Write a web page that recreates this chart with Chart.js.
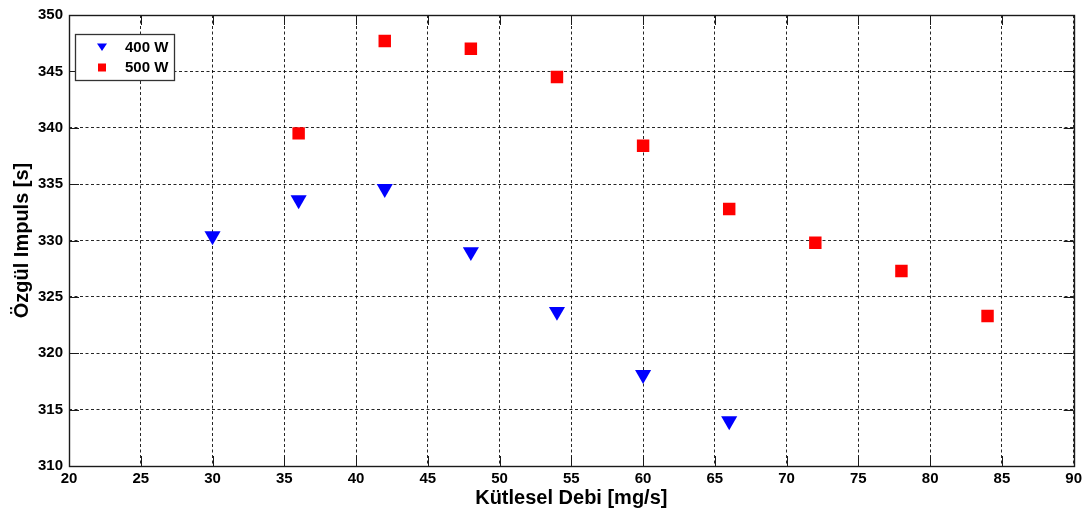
<!DOCTYPE html>
<html>
<head>
<meta charset="utf-8">
<script src="https://cdn.jsdelivr.net/npm/chart.js@4/dist/chart.umd.min.js"></script>
<style>
  html, body { margin: 0; padding: 0; background: #ffffff; }
  #wrap { width: 1086px; height: 515px; position: relative; }
</style>
</head>
<body>
<div id="wrap"><canvas id="c" width="1086" height="515"></canvas></div>
<script>
// Mass flow rate (mg/s) and specific impulse (s) for the two power levels
const massFlow400 = [30, 36, 42, 48, 54, 60, 66];
const isp400 = [330.4, 333.6, 334.6, 329.0, 323.7, 318.1, 314.0];

const massFlow500 = [36, 42, 48, 54, 60, 66, 72, 78, 84];
const isp500 = [339.5, 347.7, 347.0, 344.5, 338.4, 332.8, 329.8, 327.3, 323.3];

const seriesLabels = ['400 W', '500 W'];

// Axis ranges and tick spacing
const xRange = [20, 90];
const yRange = [310, 350];
const tickStep = 5;

const xTitle = 'Kütlesel Debi [mg/s]';
const yTitle = 'Özgül Impuls [s]';

const FONT = "'Liberation Sans', Arial, sans-serif";

function toPoints(xs, ys) {
  return xs.map((x, i) => ({ x: x, y: ys[i] }));
}

// Box frame with inward tick marks on all four sides
const framePlugin = {
  id: 'frame',
  afterDatasetsDraw(chart) {
    const { ctx, chartArea: a, scales } = chart;
    const tickLen = 10;
    ctx.save();
    ctx.strokeStyle = '#1a1a1a';
    ctx.lineWidth = 1;
    ctx.setLineDash([]);
    ctx.beginPath();
    scales.x.ticks.forEach(t => {
      const px = Math.round(scales.x.getPixelForValue(t.value)) + 0.5;
      ctx.moveTo(px, a.bottom); ctx.lineTo(px, a.bottom - tickLen);
      ctx.moveTo(px, a.top); ctx.lineTo(px, a.top + tickLen);
    });
    scales.y.ticks.forEach(t => {
      const py = Math.round(scales.y.getPixelForValue(t.value)) + 0.5;
      ctx.moveTo(a.left, py); ctx.lineTo(a.left + tickLen, py);
      ctx.moveTo(a.right, py); ctx.lineTo(a.right - tickLen, py);
    });
    ctx.stroke();
    ctx.lineWidth = 1.4;
    ctx.strokeRect(Math.round(a.left) + 0.5, Math.round(a.top) + 0.5,
                   Math.round(a.right - a.left), Math.round(a.bottom - a.top));
    ctx.restore();
  }
};

// Legend box drawn inside the upper-left corner of the plot
const insideLegend = {
  id: 'insideLegend',
  afterDraw(chart) {
    const { ctx, chartArea: a } = chart;
    const bx = a.left + 6, by = a.top + 19, bw = 99, bh = 46;
    ctx.save();
    ctx.fillStyle = '#ffffff';
    ctx.fillRect(bx, by, bw, bh);
    ctx.strokeStyle = '#333333';
    ctx.lineWidth = 1.3;
    ctx.strokeRect(bx + 0.5, by + 0.5, bw, bh);
    chart.data.datasets.forEach((ds, i) => {
      const cy = by + 13 + i * 20.5;
      const mx = bx + 27;
      ctx.fillStyle = ds.backgroundColor;
      ctx.beginPath();
      if (ds.pointStyle === 'triangle') {
        ctx.moveTo(mx - 5, cy - 3.5);
        ctx.lineTo(mx + 5, cy - 3.5);
        ctx.lineTo(mx, cy + 4);
        ctx.closePath();
      } else {
        ctx.rect(mx - 4, cy - 4, 8, 8);
      }
      ctx.fill();
      ctx.fillStyle = '#000000';
      ctx.font = 'bold 15px ' + FONT;
      ctx.textAlign = 'left';
      ctx.textBaseline = 'middle';
      ctx.fillText(ds.label, bx + 50, cy + 0.5);
    });
    ctx.restore();
  }
};

new Chart(document.getElementById('c'), {
  type: 'scatter',
  data: {
    datasets: [
      {
        label: seriesLabels[0],
        data: toPoints(massFlow400, isp400),
        pointStyle: 'triangle',
        rotation: 180,
        pointRadius: 9.3,
        pointHoverRadius: 9.3,
        backgroundColor: '#0000ff',
        borderColor: '#0000ff',
        borderWidth: 0
      },
      {
        label: seriesLabels[1],
        data: toPoints(massFlow500, isp500),
        pointStyle: 'rect',
        pointRadius: 8.8,
        pointHoverRadius: 8.8,
        backgroundColor: '#ff0000',
        borderColor: '#ff0000',
        borderWidth: 0
      }
    ]
  },
  options: {
    responsive: false,
    animation: false,
    events: [],
    layout: { padding: { top: 10, right: 10, left: 0, bottom: 0 } },
    plugins: {
      legend: { display: false },
      tooltip: { enabled: false }
    },
    scales: {
      x: {
        type: 'linear',
        min: xRange[0],
        max: xRange[1],
        afterFit(scale) { scale.height = 49; },
        ticks: {
          stepSize: tickStep,
          padding: 4,
          color: '#000000',
          maxRotation: 0,
          font: { family: FONT, size: 15, weight: 'bold' }
        },
        grid: { color: 'rgba(0,0,0,0.85)', lineWidth: 1, drawTicks: false },
        border: { display: false, dash: [3, 2.5] },
        title: {
          display: true,
          text: xTitle,
          color: '#000000',
          padding: { top: 0, bottom: 5 },
          font: { family: FONT, size: 20, weight: 'bold' }
        }
      },
      y: {
        type: 'linear',
        min: yRange[0],
        max: yRange[1],
        afterFit(scale) { scale.width = 69; },
        ticks: {
          stepSize: tickStep,
          padding: 6,
          color: '#000000',
          font: { family: FONT, size: 15, weight: 'bold' }
        },
        grid: { color: 'rgba(0,0,0,0.85)', lineWidth: 1, drawTicks: false },
        border: { display: false, dash: [3, 2.5] },
        title: {
          display: true,
          text: yTitle,
          color: '#000000',
          padding: { top: 10, bottom: 0 },
          font: { family: FONT, size: 20, weight: 'bold' }
        }
      }
    }
  },
  plugins: [framePlugin, insideLegend]
});
</script>
</body>
</html>
